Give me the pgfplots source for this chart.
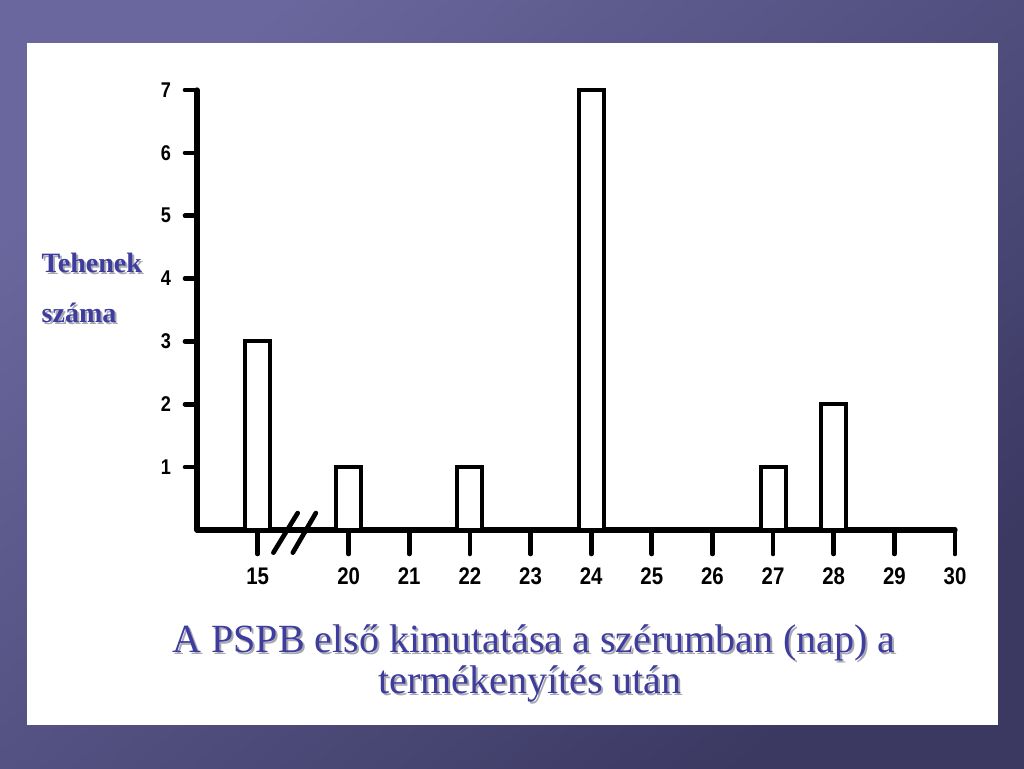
\documentclass[border=0pt]{standalone}
\usepackage{fontspec}
\setmainfont{Liberation Serif}
\newfontfamily\tickfont[FakeStretch=0.85]{Liberation Sans}
\usepackage{pgfplots}
\pgfplotsset{compat=1.18}
\usepackage{pgfplotstable}
\definecolor{bgTL}{HTML}{69679D}
\definecolor{bgBR}{HTML}{3B3962}
\definecolor{titleblue}{HTML}{3E3C9C}
\definecolor{shadowgray}{HTML}{A8A8B4}

\pgfplotstableread{
pos val
0   3
1.5 1
3.5 1
5.5 7
8.5 1
9.5 2
}\bars

\begin{document}
\begin{tikzpicture}[x=0.75pt,y=0.75pt]
\shade[top color=bgTL, bottom color=bgBR, shading angle=40] (0,0) rectangle (1024,768);
\fill[white] (27,43) rectangle (998,725);
\useasboundingbox (0,0) rectangle (1024,768);

\begin{axis}[
  at={(147.75pt,178.5pt)}, anchor=south west,
  scale only axis, width=568.5pt, height=330pt,
  xmin=-1, xmax=11.5, ymin=0, ymax=7,
  clip=false,
  axis x line*=bottom, axis y line*=left,
  axis line style={-, line width=4pt, line cap=round},
  xtick={0,1.5,2.5,3.5,4.5,5.5,6.5,7.5,8.5,9.5,10.5,11.5},
  xticklabels={15,20,21,22,23,24,25,26,27,28,29,30},
  ytick={1,2,3,4,5,6,7},
  yticklabels={1,2,3,4,5,6,7},
  tick align=outside,
  major tick length=18pt,
  y tick style={/pgfplots/major tick length=9pt},
  tick style={line width=3.5pt, black, line cap=round},
  xticklabel style={font=\tickfont\bfseries\fontsize{18}{18}\selectfont, yshift=-7pt},
  yticklabel style={font=\tickfont\bfseries\fontsize{16}{16}\selectfont, xshift=2pt},
]
\addplot[ybar, bar width=18.75pt, draw=black, fill=white, line width=3pt] table[x=pos, y=val] {\bars};
\draw[line width=3.5pt, line cap=round] (axis cs:0.26,-0.36) -- (axis cs:0.66,0.27);
\draw[line width=3.5pt, line cap=round] (axis cs:0.58,-0.36) -- (axis cs:0.96,0.27);
\end{axis}

% y label
\begin{scope}[font=\fontsize{21}{21}\selectfont\bfseries]
\node[anchor=base west, text=shadowgray] at (39,493) {Tehenek};
\node[anchor=base west, text=titleblue] at (37,495) {Tehenek};
\node[anchor=base west, text=shadowgray] at (39,443) {száma};
\node[anchor=base west, text=titleblue] at (37,445) {száma};
\end{scope}

% title
\begin{scope}[font=\fontsize{30}{30}\selectfont]
\node[anchor=base, text=shadowgray] at (536,114) {A PSPB első kimutatása a szérumban (nap) a};
\node[anchor=base, text=titleblue] at (534,116) {A PSPB első kimutatása a szérumban (nap) a};
\node[anchor=base, text=shadowgray] at (532,73) {termékenyítés után};
\node[anchor=base, text=titleblue] at (530,75) {termékenyítés után};
\end{scope}
\end{tikzpicture}
\end{document}
